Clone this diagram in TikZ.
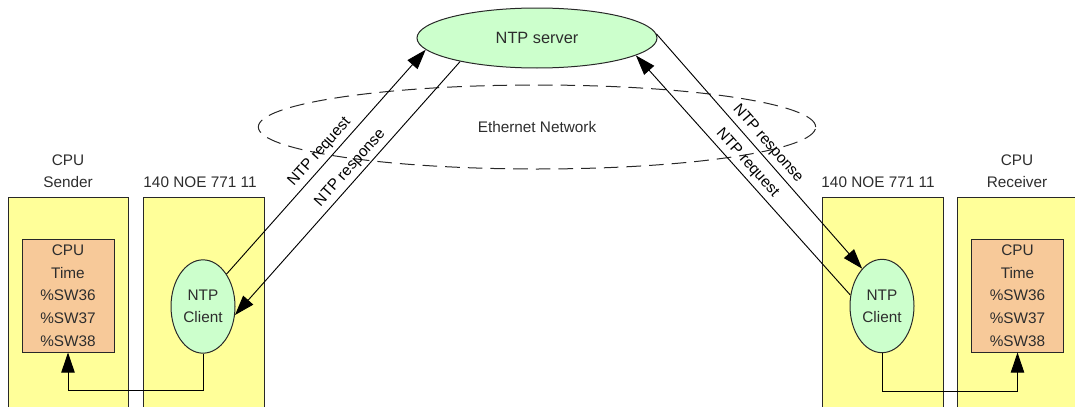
\documentclass[tikz,border=0pt]{standalone}
\usepackage{fontspec}
\setmainfont{Liberation Sans}
\usetikzlibrary{shapes.geometric,arrows.meta}

\definecolor{boxyellow}{RGB}{255,255,153}
\definecolor{timeorange}{RGB}{247,201,153}
\definecolor{ntpgreen}{RGB}{204,255,204}
\definecolor{inktext}{RGB}{45,45,45}
\definecolor{inkline}{RGB}{40,40,40}

\tikzset{
  >={Triangle[length=15pt,width=10pt]},
  lbl/.style={text=inktext, font=\fontsize{11.5}{16.5}\selectfont, align=center, inner sep=0},
  module/.style={draw=inkline, fill=boxyellow, line width=0.75pt, anchor=north west,
    minimum height=170pt, inner sep=0},
  timebox/.style={draw=inkline, fill=timeorange, line width=0.75pt, minimum width=69pt,
    minimum height=84.75pt, inner sep=0, align=center, text=inktext,
    font=\fontsize{11.5}{17}\selectfont},
  client/.style={ellipse, draw=inkline, fill=ntpgreen, line width=0.75pt, minimum width=48pt,
    minimum height=70pt, inner sep=0, align=center, text=inktext,
    font=\fontsize{11.5}{16.5}\selectfont},
  server/.style={ellipse, draw=inkline, fill=ntpgreen, line width=0.75pt, minimum width=180pt,
    minimum height=45pt, inner sep=0, text=inktext, font=\fontsize{12.25}{14}\selectfont},
  network/.style={ellipse, draw=inkline, dash pattern=on 11pt off 6pt, line width=0.75pt,
    minimum width=418pt, minimum height=63pt, inner sep=0, text=inktext,
    font=\fontsize{11.5}{14}\selectfont},
  flow/.style={draw=black, line width=0.7pt},
  flowlbl/.style={sloped, text=black, font=\fontsize{11.5}{14}\selectfont, inner sep=3pt},
}

\begin{document}
\begin{tikzpicture}[x=0.75pt,y=-0.75pt]
  \clip (0,0) rectangle (1075,407);

  % network cloud and server
  \node[network] (net) at (537,127) {Ethernet Network};
  \node[server] (srv) at (537,38) {NTP server};

  % sending side
  \node[module, minimum width=90pt] (snd) at (8,197) {};
  \node[module, minimum width=90.75pt] (noeL) at (143,197) {};
  \node[lbl] (sndlbl) at (68,171) {CPU\\Sender};
  \node[lbl] (noeLlbl) at (200,182) {140 NOE 771 11};
  \node[timebox] (timeL) at (68,295.5) {CPU\\Time\\\%SW36\\\%SW37\\\%SW38};
  \node[client] (cliL) at (203,306.5) {NTP\\Client};

  % receiving side
  \node[module, minimum width=90.75pt] (noeR) at (822,197) {};
  \node[module, minimum width=95pt] (rcv) at (957,197) {};
  \node[lbl] (noeRlbl) at (878,182) {140 NOE 771 11};
  \node[lbl] (rcvlbl) at (1017,171) {CPU\\Receiver};
  \node[timebox] (timeR) at (1017.5,295.5) {CPU\\Time\\\%SW36\\\%SW37\\\%SW38};
  \node[client] (cliR) at (882,306) {NTP\\Client};

  % NTP exchanges
  \draw[flow,->] (cliL.54) -- node[flowlbl, above, pos=0.51] {NTP request} (srv.186.5);
  \draw[flow,<-] (cliL.-15) -- node[flowlbl, above, pos=0.55] {NTP response} (srv.197);
  \draw[flow,->] (srv.2) -- node[flowlbl, above, pos=0.5] {NTP response} (cliR.118);
  \draw[flow,<-] (srv.-10.5) -- node[flowlbl, above, pos=0.48] {NTP request} (cliR.161);

  % time written into the CPU
  \coordinate (bendL) at (68,390);
  \coordinate (bendR) at (1017.5,391);
  \draw[flow,->] (cliL.south) |- (bendL) -- (timeL.south);
  \draw[flow,->] (cliR.south) |- (bendR) -- (timeR.south);
\end{tikzpicture}
\end{document}
